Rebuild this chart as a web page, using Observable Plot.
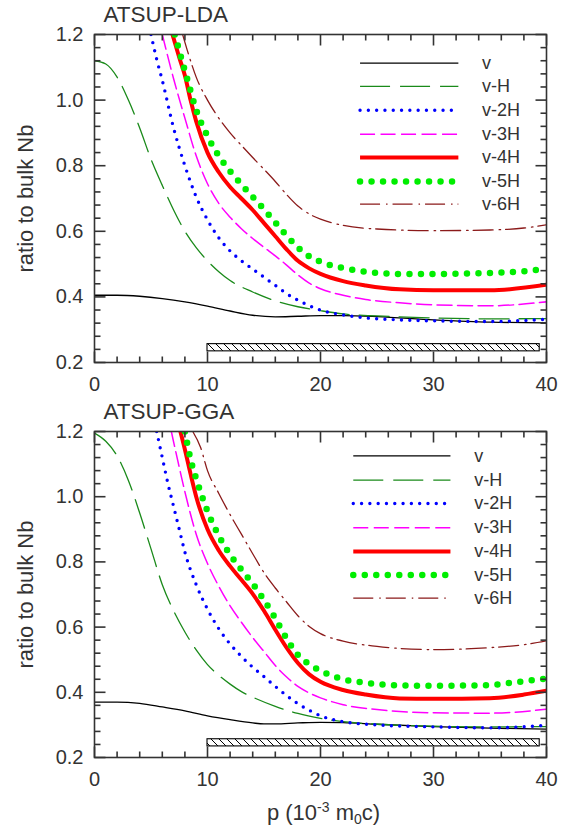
<!DOCTYPE html>
<html><head><meta charset="utf-8">
<script src="https://cdn.jsdelivr.net/npm/d3@7"></script>
<script src="https://cdn.jsdelivr.net/npm/@observablehq/plot@0.6"></script>
<style>
body{margin:0;background:#fff;}
#chart{width:567px;}
#chart svg{display:block;}
</style></head>
<body>
<svg width="0" height="0" style="position:absolute">
 <defs>
  <pattern id="hatch" patternUnits="userSpaceOnUse" width="8" height="8">
   <path d="M0,0L8,8M-4,4L4,12M4,-4L12,4" stroke="#000" stroke-width="1"/>
  </pattern>
 </defs>
</svg>
<div id="chart"></div>
<script>
// ---- data ----
const seriesNames = ["v","v-H","v-2H","v-3H","v-4H","v-5H","v-6H"];
const xMajor = [0,10,20,30,40];
const xMinor = [2,4,6,8,12,14,16,18,22,24,26,28,32,34,36,38];
const yMajor = [0.2,0.4,0.6,0.8,1.0,1.2];
const yMinor = [0.24,0.28,0.32,0.36,0.44,0.48,0.52,0.56,0.64,0.68,0.72,0.76,0.84,0.88,0.92,0.96,1.04,1.08,1.12,1.16];
const barX = [10, 39.4];
const barY = [0.234, 0.256];

const ldaV  = [[0,0.405],[2,0.405],[4,0.402],[6,0.395],[8,0.385],[10,0.372],[12,0.357],[14,0.344],[16,0.339],[18,0.341],[20,0.343],[22,0.343],[25,0.34],[30,0.33],[35,0.323],[40,0.321]];
const ldaH  = [[0,1.12],[1,1.11],[2,1.07],[3,1.0],[4,0.915],[5,0.82],[6,0.74],[7,0.665],[8,0.6],[9,0.55],[10,0.51],[11,0.477],[12,0.45],[14,0.415],[16,0.388],[18,0.37],[20,0.358],[22,0.348],[25,0.342],[30,0.336],[35,0.333],[40,0.334]];
const ldaH2 = [[5,1.2],[5.5,1.125],[6,1.06],[7,0.915],[8,0.8],[9,0.705],[10,0.635],[11,0.58],[12,0.54],[13,0.51],[14,0.485],[15,0.46],[16,0.435],[17,0.41],[18,0.39],[20,0.36],[22,0.345],[24,0.336],[27,0.33],[30,0.327],[35,0.325],[40,0.332]];
const ldaH3 = [[6,1.2],[7,1.065],[8,0.945],[9,0.83],[10,0.745],[11,0.685],[12,0.643],[13,0.608],[14,0.578],[15,0.551],[16,0.525],[17,0.497],[18,0.467],[19,0.442],[20,0.425],[22,0.405],[24,0.392],[27,0.382],[30,0.376],[35,0.373],[40,0.385]];
const ldaH4 = [[6.9,1.2],[7.5,1.13],[8,1.075],[8.5,1.0],[9,0.935],[10,0.84],[11,0.78],[12,0.735],[13,0.7],[14,0.665],[15,0.625],[16,0.585],[17,0.545],[18,0.51],[19,0.487],[20,0.47],[22,0.448],[24,0.435],[27,0.423],[30,0.42],[35,0.42],[40,0.437]];
const ldaH5 = [[7.1,1.2],[7.65,1.132],[8.24,1.06],[9,0.97],[10,0.89],[11,0.83],[12,0.783],[13,0.743],[14,0.705],[15,0.667],[16,0.627],[17,0.587],[18,0.551],[19,0.524],[20,0.507],[22,0.488],[24,0.477],[27,0.47],[30,0.47],[35,0.473],[38,0.478],[40,0.486]];
const ldaH6 = [[7.8,1.2],[8.5,1.12],[9,1.07],[10,1.0],[11,0.945],[12,0.9],[13,0.862],[14,0.825],[15,0.789],[16,0.752],[17,0.712],[18,0.677],[19,0.653],[20,0.637],[22,0.618],[25,0.607],[30,0.602],[35,0.604],[38,0.61],[40,0.62]];

const ggaV  = [[0,0.37],[2,0.37],[4,0.366],[6,0.355],[8,0.343],[10,0.328],[12,0.316],[14,0.306],[15,0.303],[16,0.303],[18,0.306],[20,0.308],[22,0.307],[25,0.302],[30,0.295],[35,0.29],[40,0.287]];
const ggaH  = [[0,1.195],[1,1.17],[2,1.125],[3,1.05],[4,0.95],[5,0.84],[6,0.73],[7,0.65],[8,0.585],[9,0.53],[10,0.485],[11,0.452],[12,0.425],[13,0.402],[14,0.385],[16,0.357],[18,0.335],[20,0.32],[22,0.31],[25,0.302],[30,0.296],[35,0.294],[40,0.295]];
const ggaH2 = [[5.5,1.2],[6,1.12],[6.5,1.04],[7,0.97],[7.5,0.9],[8,0.83],[9,0.73],[10,0.655],[11,0.595],[12,0.548],[13,0.51],[14,0.477],[15,0.448],[16,0.418],[17,0.39],[18,0.365],[19,0.345],[20,0.328],[22,0.31],[25,0.3],[30,0.294],[35,0.291],[40,0.299]];
const ggaH3 = [[6.8,1.2],[7.5,1.09],[8,1.015],[9,0.885],[10,0.795],[11,0.725],[12,0.665],[13,0.615],[14,0.568],[15,0.525],[16,0.482],[17,0.447],[18,0.418],[19,0.398],[20,0.383],[22,0.362],[25,0.347],[30,0.337],[35,0.336],[40,0.348]];
const ggaH4 = [[7.6,1.2],[8,1.145],[8.5,1.07],[9,1.0],[10,0.9],[11,0.835],[12,0.787],[13,0.745],[14,0.702],[15,0.65],[16,0.592],[17,0.537],[18,0.49],[19,0.455],[20,0.432],[22,0.407],[24,0.393],[27,0.381],[30,0.38],[35,0.382],[38,0.393],[40,0.405]];
const ggaH5 = [[8,1.2],[8.5,1.115],[9,1.055],[9.5,1.003],[10,0.955],[11,0.88],[12,0.822],[13,0.776],[14,0.733],[15,0.683],[16,0.627],[17,0.565],[18,0.515],[19,0.486],[20,0.466],[22,0.44],[24,0.429],[27,0.421],[30,0.42],[35,0.422],[37,0.43],[40,0.442]];
const ggaH6 = [[8.7,1.2],[9.4,1.15],[10,1.08],[11,1.01],[12,0.945],[13,0.885],[14,0.825],[15,0.767],[16,0.72],[17,0.677],[18,0.635],[19,0.602],[20,0.58],[22,0.557],[25,0.541],[30,0.531],[35,0.537],[38,0.546],[40,0.558]];

const ldaLegendY = [1.113,1.042,0.969,0.896,0.825,0.752,0.683];
const ggaLegendY = [1.125,1.051,0.979,0.905,0.832,0.760,0.689];
const ldaLegendX = [23.5, 32.2, 34.3];
const ggaLegendX = [22.9, 31.5, 33.6];

// ---- styles ----
const styles = [
  {stroke:"#000000", strokeWidth:1.3},
  {stroke:"#1a8a1a", strokeWidth:1.3, strokeDasharray:"30 10"},
  {stroke:"#0000ff", strokeWidth:3.4, strokeDasharray:"0 8.3", strokeLinecap:"round"},
  {stroke:"#ff00ff", strokeWidth:1.5, strokeDasharray:"15 5.5"},
  {stroke:"#ff0000", strokeWidth:4},
  {stroke:"#00ee00", strokeWidth:6.5, strokeDasharray:"0 11.5", strokeLinecap:"round"},
  {stroke:"#8b1a1a", strokeWidth:1.3, strokeDasharray:"20 6 1.5 5"}
];
const FONT = "'Liberation Sans', Arial, Helvetica, sans-serif";
const TXT = "#333";
const AX = "#333";
const X_LABEL = "p (10-3 m0c)";
const W = 567, ML = 94, MR = 21;
const MAJ = 11, MIN = 6; // tick lengths in px

function panel({title, curves, legY, legX, height, marginTop, marginBottom, xLabel}) {
  const kx = 40 / (W - ML - MR);
  const ky = 1.0 / (height - marginTop - marginBottom);
  // inward ticks as short segments, one object per tick
  const tickX = (vals, y0, len) => Plot.link(vals.map(v => ({a: v, b: y0, c: y0 + len * ky})), {x1: "a", x2: "a", y1: "b", y2: "c", stroke: AX, strokeWidth: 1.6});
  const tickY = (vals, x0, len) => Plot.link(vals.map(v => ({a: v, b: x0, c: x0 + len * kx})), {y1: "a", y2: "a", x1: "b", x2: "c", stroke: AX, strokeWidth: 1.6});

  const marks = [];
  marks.push(Plot.rect([0], {x1: barX[0], x2: barX[1], y1: barY[0], y2: barY[1], fill: "url(#hatch)", stroke: "#000", strokeWidth: 1.1}));
  curves.forEach((c, i) => {
    const pts = c.map(([x, y]) => ({x, y}));
    marks.push(Plot.line(pts, {x: "x", y: "y", curve: "monotone-x", clip: true, ...styles[i]}));
    marks.push(Plot.link([0], {x1: legX[0], x2: legX[1], y1: legY[i], y2: legY[i], ...styles[i]}));
    marks.push(Plot.text([seriesNames[i]], {x: legX[2], y: legY[i], text: d => d, textAnchor: "start", lineAnchor: "middle", fontSize: 18, fill: TXT}));
  });
  marks.push(
    tickX(xMajor, 0.2, MAJ), tickX(xMinor, 0.2, MIN),
    tickX(xMajor, 1.2, -MAJ), tickX(xMinor, 1.2, -MIN),
    tickY(yMajor, 0, MAJ), tickY(yMinor, 0, MIN),
    tickY(yMajor, 40, -MAJ), tickY(yMinor, 40, -MIN),
    Plot.axisX({anchor: "bottom", ticks: xMajor, tickSize: 0, tickPadding: 14, fontSize: 20, fill: TXT, label: null}),
    Plot.axisY({anchor: "left", ticks: yMajor, tickSize: 0, tickPadding: 11, tickFormat: d3.format(".1f"), fontSize: 20, fill: TXT, label: null}),
    Plot.frame({stroke: AX, strokeWidth: 1.6}),
    Plot.text([title], {frameAnchor: "top-left", dx: 9, dy: -13, lineAnchor: "bottom", textAnchor: "start", text: d => d, fontSize: 22.5, fill: TXT}),
    Plot.text(["ratio to bulk Nb"], {frameAnchor: "left", rotate: -90, dx: -62, lineAnchor: "bottom", textAnchor: "middle", text: d => d, fontSize: 22, fill: TXT})
  );
  if (xLabel) {
    marks.push(Plot.text([xLabel], {frameAnchor: "bottom", dy: 62.5, dx: 3, lineAnchor: "bottom", textAnchor: "middle", text: d => d, fontSize: 22, fill: TXT}));
  }
  return Plot.plot({
    width: W, height, marginLeft: ML, marginRight: MR, marginTop, marginBottom,
    style: {fontFamily: FONT, background: "#fff", color: TXT},
    x: {domain: [0, 40]},
    y: {domain: [0.2, 1.2]},
    marks
  });
}

const topPanel = panel({title: "ATSUP-LDA", curves: [ldaV, ldaH, ldaH2, ldaH3, ldaH4, ldaH5, ldaH6], legY: ldaLegendY, legX: ldaLegendX, height: 400, marginTop: 34, marginBottom: 38});
const botPanel = panel({title: "ATSUP-GGA", curves: [ggaV, ggaH, ggaH2, ggaH3, ggaH4, ggaH5, ggaH6], legY: ggaLegendY, legX: ggaLegendX, height: 429, marginTop: 31, marginBottom: 72, xLabel: X_LABEL});
const chart = document.getElementById("chart");
chart.appendChild(topPanel);
chart.appendChild(botPanel);

// rich text for x label: p (10^-3 m_0 c)
d3.select(botPanel).selectAll("text").filter(function() { return this.textContent === X_LABEL; }).each(function() {
  const t = d3.select(this);
  t.text(null);
  t.append("tspan").text("p (10");
  t.append("tspan").attr("dy", "-8").attr("font-size", "14").text("-3");
  t.append("tspan").attr("dy", "8").text(" m");
  t.append("tspan").attr("dy", "4").attr("font-size", "14").text("0");
  t.append("tspan").attr("dy", "-4").text("c)");
});
</script>
</body></html>
